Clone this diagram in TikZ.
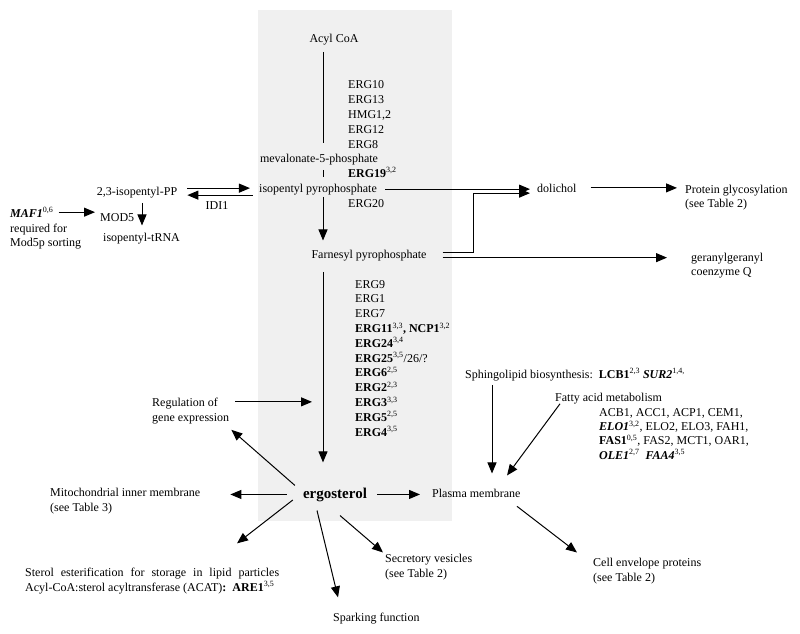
\documentclass[tikz,border=0pt]{standalone}
\usepackage{fontspec}
\setmainfont{Liberation Serif}
\usepackage{tikz}
\usetikzlibrary{arrows.meta}
\tikzstyle{txt} = [inner sep=0pt, font=\fontsize{12}{15}\selectfont]
\tikzstyle{block} = [txt, align=left]
\tikzstyle{conn} = [line width=1pt]
\tikzstyle{arrow} = [line width=1pt, -{Triangle[length=11pt,width=9pt]}]

\begin{document}
\begin{tikzpicture}[x=1pt, y=-1pt]
  \useasboundingbox (0,0) rectangle (800,633);
  % shaded sterol pathway
  \fill[black!6] (258,10) rectangle (452,521);
  \coordinate (ax) at (323,0);
  \coordinate (fork) at (473,0);

  % main pathway (blocks are placed by the baseline of their last line)
  \node (acyl) [txt, anchor=base] at (334,42) {Acyl CoA};
  \node (ergA) [block, anchor=base west] at (348,148) {ERG10\\ERG13\\HMG1,2\\ERG12\\ERG8};
  \node (meva) [txt, anchor=base] at (319,162) {mevalonate-5-phosphate};
  \node (erg19) [txt, anchor=base west] at (348,177) {\textbf{ERG19}\textsuperscript{3,2}};
  \node (ipp) [txt, anchor=base] at (318,192) {isopentyl pyrophosphate};
  \node (erg20) [txt, anchor=base west] at (348,207) {ERG20};
  \node (fpp) [txt, anchor=base] at (369,258) {Farnesyl pyrophosphate};
  \node (ergB) [block, anchor=base west, font=\fontsize{12}{14.8}\selectfont] at (355,436)
    {ERG9\\ERG1\\ERG7\\\textbf{ERG11}\textsuperscript{3,3}\textbf{, NCP1}\textsuperscript{3,2}\\
     \textbf{ERG24}\textsuperscript{3,4}\\\textbf{ERG25}\textsuperscript{3,5}/26/?\\
     \textbf{ERG6}\textsuperscript{2,5}\\\textbf{ERG2}\textsuperscript{2,3}\\
     \textbf{ERG3}\textsuperscript{3,3}\\\textbf{ERG5}\textsuperscript{2,5}\\\textbf{ERG4}\textsuperscript{3,5}};
  \node (ergo) [txt, anchor=base, font=\fontsize{15}{18}\selectfont\bfseries] at (335,498) {ergosterol};

  % left branch
  \node (iso23) [txt, anchor=base] at (137,195) {2,3-isopentyl-PP};
  \node (idi) [txt, anchor=base] at (217,209) {IDI1};
  \node (mod5) [txt, anchor=base west] at (100,221) {MOD5};
  \node (trna) [txt, anchor=base west] at (103,241) {isopentyl-tRNA};
  \node (maf) [txt, anchor=base west] at (10,217) {\textbf{\textit{MAF1}}\textsuperscript{0,6}};
  \node (mafnote) [block, anchor=base west, font=\fontsize{12}{14.5}\selectfont] at (10,246.5) {required for\\Mod5p sorting};

  % right branch
  \node (dolichol) [txt, anchor=base west] at (537,192) {dolichol};
  \node (protein) [block, anchor=base west, font=\fontsize{12}{14}\selectfont] at (685,207) {Protein glycosylation\\(see Table 2)};
  \node (gg) [block, anchor=base west, font=\fontsize{12}{14}\selectfont] at (691,275) {geranylgeranyl\\coenzyme Q};

  % membranes and lipids
  \node (sphingo) [txt, anchor=base west] at (465,378) {Sphingolipid biosynthesis:~~\textbf{LCB1}\textsuperscript{2,3} \textbf{\textit{SUR2}}\textsuperscript{1,4,}};
  \node (fatty) [txt, anchor=base west] at (555,401) {Fatty acid metabolism};
  \node (fagenes) [block, anchor=base west, font=\fontsize{12}{14.3}\selectfont] at (599,459)
    {ACB1, ACC1, ACP1, CEM1,\\\textbf{\textit{ELO1}}\textsuperscript{3,2}, ELO2, ELO3, FAH1,\\
     \textbf{FAS1}\textsuperscript{0,5}, FAS2, MCT1, OAR1,\\\textbf{\textit{OLE1}}\textsuperscript{2,7}~~\textbf{\textit{FAA4}}\textsuperscript{3,5}};
  \node (plasma) [txt, anchor=base west] at (432,497) {Plasma membrane};
  \node (cell) [block, anchor=base west] at (593,581) {Cell envelope proteins\\(see Table 2)};

  % fates of ergosterol
  \node (reg) [block, anchor=base west] at (152,421) {Regulation of\\gene expression};
  \node (mito) [block, anchor=base west] at (50,511) {Mitochondrial inner membrane\\(see Table 3)};
  \node (sterol) [block, anchor=base west] at (25,591) {\spaceskip=7pt Sterol esterification for storage in lipid particles\\
    Acyl-CoA:sterol acyltransferase (ACAT)\textbf{:}~~\textbf{ARE1}\textsuperscript{3,5}};
  \node (secr) [block, anchor=base west] at (385,577) {Secretory vesicles\\(see Table 2)};
  \node (spark) [txt, anchor=base west] at (333,621) {Sparking function};

  % main pathway connectors
  \draw [conn, shorten <=7pt, shorten >=10pt] (acyl.south -| ax) -- (meva.north -| ax);
  \draw [conn, shorten <=5pt, shorten >=6pt] (meva.south -| ax) -- (ipp.north -| ax);
  \draw [arrow, shorten <=2pt, shorten >=9pt] (ipp.south -| ax) -- (fpp.north -| ax);
  \draw [arrow, shorten <=11pt, shorten >=25pt] (fpp.south -| ax) -- (ergo.north -| ax);

  % IDI1 and tRNA
  \draw [arrow, shorten <=10pt, shorten >=9pt] ([yshift=4pt]iso23.east) -- ([yshift=4pt]iso23.east -| ipp.west);
  \draw [arrow, shorten <=6pt, shorten >=10pt] ([yshift=-3pt]iso23.east -| ipp.west) -- ([yshift=-3pt]iso23.east);
  \draw [arrow, shorten <=5pt, shorten >=7pt] ([xshift=5pt]iso23.south) -- ([xshift=5pt]iso23.south |- trna.north);
  \draw [arrow, shorten <=5pt, shorten >=5pt] (maf.east) -- (maf.east -| mod5.west);

  % dolichol and geranylgeranyl
  \draw [arrow, shorten <=8pt, shorten >=7pt] (ipp.east) -- (ipp.east -| dolichol.west);
  \draw [arrow, shorten <=16pt, shorten >=7pt] ([yshift=2.5pt]fpp.east) -| ([yshift=-4pt]ipp.east -| fork) -- ([yshift=-4pt]ipp.east -| dolichol.west);
  \draw [arrow, shorten <=16pt, shorten >=24pt] ([yshift=-2.5pt]fpp.east) -- ([yshift=-2.5pt]fpp.east -| gg.west);
  \draw [arrow, shorten <=14pt, shorten >=8pt] (dolichol.east) -- (dolichol.east -| protein.west);

  % ergosterol fates
  \draw [arrow, shorten <=6pt, shorten >=11pt] ([yshift=-4.5pt]reg.north east) -- ([yshift=-4.5pt]reg.north east -| ax);
  \draw [arrow] ([xshift=-8pt,yshift=2pt]ergo.north west) -- ([xshift=2pt,yshift=-6pt]reg.south east);
  \draw [arrow, shorten <=16pt, shorten >=30pt] (ergo.west) -- (ergo.west -| mito.east);
  \draw [arrow, shorten <=10pt, shorten >=12pt] (ergo.east) -- (ergo.east -| plasma.west);
  \draw [arrow] ([xshift=-10pt,yshift=-5.5pt]ergo.west) -- ([xshift=212pt,yshift=24pt]sterol.north west);
  \draw [arrow] ([xshift=-18pt,yshift=-9pt]ergo.south) -- ([xshift=5pt,yshift=15pt]spark.north west);
  \draw [arrow] ([xshift=5pt,yshift=-14pt]ergo.south) -- ([xshift=-2pt,yshift=1pt]secr.north west);
  \draw [arrow] ([xshift=85pt,yshift=-9pt]plasma.south west) -- ([xshift=-16pt,yshift=5pt]cell.north west);

  % lipids to plasma membrane
  \draw [arrow, shorten <=4pt, shorten >=15pt] ([xshift=27pt]sphingo.south west) -- ([xshift=27pt]sphingo.south west |- plasma.north);
  \draw [arrow] ([xshift=5pt]fatty.south west) -- ([xshift=75pt,yshift=13pt]plasma.north west);
\end{tikzpicture}
\end{document}
